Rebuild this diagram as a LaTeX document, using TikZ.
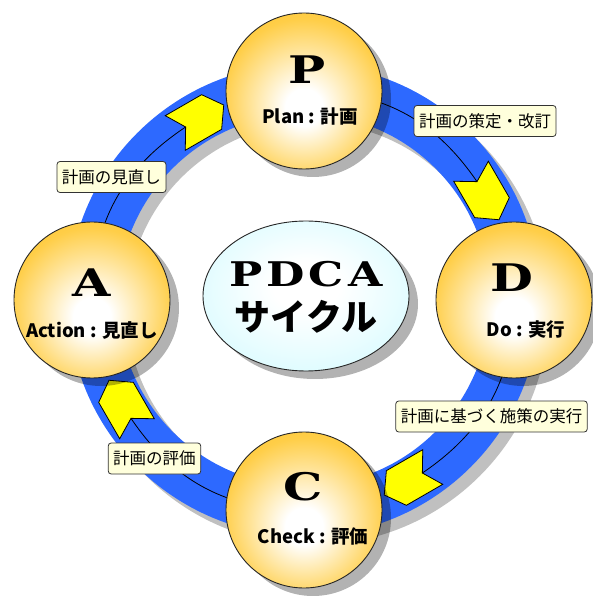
\documentclass[tikz,border=0pt]{standalone}
\usepackage{graphicx}
\usepackage{fontspec}
\newfontfamily\jpfont{Noto Sans CJK JP}
\newfontfamily\letterfont{DejaVu Serif}
\usetikzlibrary{shapes.geometric,shadows}

\definecolor{ringblue}{RGB}{45,105,255}
\definecolor{ringgray}{RGB}{192,192,192}
\definecolor{ballgold}{RGB}{255,178,0}
\definecolor{ballmid}{RGB}{255,206,72}
\definecolor{cyclecyan}{RGB}{185,248,255}
\definecolor{notecream}{RGB}{255,255,220}
\definecolor{arrowyellow}{RGB}{255,255,0}

\pgfdeclareradialshading{ballshade}{\pgfpoint{0bp}{-6bp}}{color(0bp)=(white); color(6bp)=(white); color(26bp)=(ballmid); color(50bp)=(ballgold)}
\pgfdeclareradialshading{cycleshade}{\pgfpoint{0bp}{4bp}}{color(0bp)=(white); color(8bp)=(white); color(50bp)=(cyclecyan)}

\pgfdeclarelayer{background}
\pgfsetlayers{background,main}

% wide bold serif capitals
\newcommand\widecaps[1]{\scalebox{1.3}[1]{#1}}

\tikzset{
  stageshadow/.style={drop shadow={shadow xshift=9pt, shadow yshift=-8pt, fill=black, opacity=0.3}},
  ball/.style={circle, draw=black!85, line width=0.9pt, minimum size=156pt, inner sep=0pt,
    shade, shading=ballshade, stageshadow},
  cyclebox/.style={ellipse, draw=black!85, line width=0.9pt, minimum width=206pt,
    minimum height=150pt, inner sep=0pt, shade, shading=cycleshade, stageshadow},
  letter/.style={font=\letterfont\bfseries\fontsize{38}{38}\selectfont, inner sep=0pt},
  stagename/.style={font=\jpfont\bfseries\fontsize{18.5}{18.5}\selectfont, inner sep=0pt},
  note/.style={draw=black!80, fill=notecream, rounded corners=3pt, line width=0.8pt,
    inner xsep=5pt, inner ysep=0pt, minimum height=31pt,
    font=\jpfont\fontsize{16.5}{16.5}\selectfont},
  stagearrow/.style={fill=arrowyellow, draw=black, line width=0.8pt, line join=miter},
  cycleline/.style={draw=black, line width=0.8pt},
}

\begin{document}
\begin{tikzpicture}[x=1pt,y=1pt]
  \useasboundingbox (-304,-296) rectangle (288,300);

  % centre
  \node[cyclebox] (cycle) at (2,4) {};
  \node[font=\letterfont\bfseries\fontsize{34}{34}\selectfont, inner sep=0pt] (cycle-en) at (2,26) {\widecaps{P\kern3pt D\kern3pt C\kern3pt A}};
  \node[font=\jpfont\bfseries\fontsize{36}{36}\selectfont, inner sep=0pt] (cycle-jp) at (2,-17) {サイクル};

  % the four stages
  \node[ball] (P) at (0,209) {};
  \node[ball] (D) at (210,0) {};
  \node[ball] (C) at (0,-210) {};
  \node[ball] (A) at (-212,0) {};

  \node[letter] (P-letter) at ([shift={(3,21)}]P.center) {\widecaps{P}};
  \node[stagename] (P-name) at ([shift={(6,-26)}]P.center) {Plan : 計画};
  \node[letter] (D-letter) at ([shift={(-2,22)}]D.center) {\widecaps{D}};
  \node[stagename] (D-name) at ([shift={(12,-29)}]D.center) {Do : 実行};
  \node[letter] (C-letter) at ([shift={(-1,23)}]C.center) {\widecaps{C}};
  \node[stagename] (C-name) at ([shift={(9,-26)}]C.center) {Check : 評価};
  \node[letter] (A-letter) at ([shift={(0,17)}]A.center) {\widecaps{A}};
  \node[stagename] (A-name) at ([shift={(0,-30)}]A.center) {Action : 見直し};

  % ring, arrows and connectors under the stages
  \begin{pgfonlayer}{background}
    \fill[ringgray, even odd rule] (9,-9) circle (236) circle (186);
    \fill[ringblue, even odd rule] (0,0) circle (236) circle (186);
    \foreach \a/\n in {120/ap,30/pd,-60/dc,-150/ca}
      \filldraw[stagearrow, shift={(\a:209)}, rotate=\a-90]
        (28,0) -- (14,20) -- (-28,20) -- (-16,0) coordinate (\n) -- (-28,-20) -- (14,-20) -- cycle;
    \draw[cycleline] (P.center) to[bend left=28] (pd);
    \draw[cycleline] (D.center) to[bend left=28] (dc);
    \draw[cycleline] (C.center) to[bend left=28] (ca);
    \draw[cycleline] (A.center) to[bend left=28] (ap);
  \end{pgfonlayer}

  % notes on the ring
  \node[note] (note-pd) at (181,179) {計画の策定・改訂};
  \node[note] (note-dc) at (187.5,-116.5) {計画に基づく施策の実行};
  \node[note] (note-ca) at (-149.5,-158.5) {計画の評価};
  \node[note] (note-ap) at (-192.5,123) {計画の見直し};
\end{tikzpicture}
\end{document}
